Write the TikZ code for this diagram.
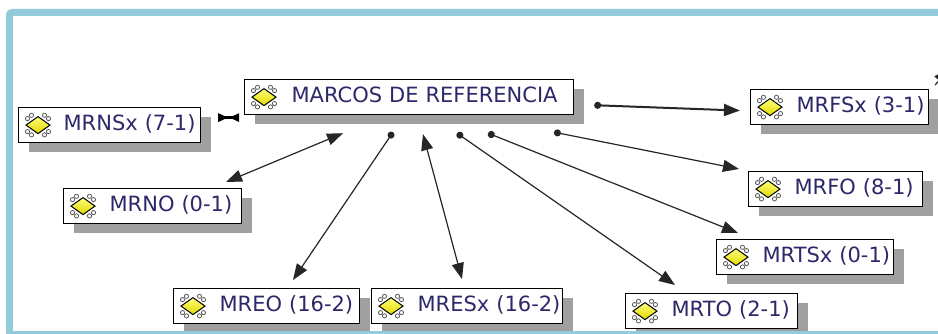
\documentclass[tikz,border=0pt]{standalone}
\usepackage{fontspec}
\setmainfont{DejaVu Sans}
\usetikzlibrary{arrows.meta,calc,shadows}
\definecolor{framecol}{RGB}{146,204,220}
\definecolor{shadowcol}{RGB}{160,160,160}
\definecolor{txtcol}{RGB}{45,40,105}
\definecolor{icotop}{RGB}{255,255,120}
\definecolor{icobot}{RGB}{225,215,0}
\tikzset{
  mbox/.style={draw=black, line width=1.2pt, fill=white, inner sep=0pt,
    minimum height=35pt, text width=#1, align=left,
    font=\fontsize{21}{24}\selectfont, text=txtcol,
    text height=15pt, text depth=4pt, anchor=north west,
    general shadow={draw=none, fill=shadowcol, shadow xshift=10pt, shadow yshift=-9pt}},
  ico/.pic={
    \foreach \a/\b in {-10.5/-6.5, -6.5/-9.8, 10.5/-6.5, 6.5/-9.8, -10.5/6.5, -6.5/9.8, 10.5/6.5, 6.5/9.8}
      \draw[black!65, line width=0.8pt] (\a,\b) circle (2.1pt);
    \draw[black, line width=1pt, top color=icotop, bottom color=icobot]
      (-12,0) -- (0,-8.5) -- (12,0) -- (0,8.5) -- cycle;
  },
  con/.style={draw=black!85, line width=1.2pt},
  tipend/.style={-{Triangle[length=16pt,width=12pt]}},
  dottip/.style={{Circle[length=7pt]}-{Triangle[length=16pt,width=12pt]}},
  bothtip/.style={{Triangle[length=16pt,width=12pt]}-{Triangle[length=16pt,width=12pt]}}
}
\begin{document}
\begin{tikzpicture}[x=1pt,y=-1pt]
\useasboundingbox (0,0) rectangle (938,334);
\clip (0,0) rectangle (938,334);
% frame
\fill[framecol, rounded corners=6pt] (6,9) rectangle (990,345);
\fill[white] (13,16) rectangle (990,331);

% nodes
\node[mbox=329pt] (marcos) at (244,79) {\mbox{\hspace*{47pt}MARCOS DE REFERENCIA}};
\node[mbox=182pt] (mrns) at (18,107) {\mbox{\hspace*{45pt}MRNSx (7-1)}};
\node[mbox=178pt] (mrno) at (63,188) {\mbox{\hspace*{46pt}MRNO (0-1)}};
\node[mbox=186pt] (mreo) at (173,288) {\mbox{\hspace*{46pt}MREO (16-2)}};
\node[mbox=191pt] (mres) at (371,288) {\mbox{\hspace*{46pt}MRESx (16-2)}};
\node[mbox=178pt] (mrfs) at (750,89) {\mbox{\hspace*{46pt}MRFSx (3-1)}};
\node[mbox=174pt] (mrfo) at (748,171) {\mbox{\hspace*{46pt}MRFO (8-1)}};
\node[mbox=177pt] (mrts) at (716,239) {\mbox{\hspace*{46pt}MRTSx (0-1)}};
\node[mbox=172pt] (mrto) at (625,293) {\mbox{\hspace*{46pt}MRTO (2-1)}};

% icons
\foreach \n in {marcos,mrns,mrno,mreo,mres,mrfs,mrfo,mrts,mrto}
  \pic at ([xshift=20pt]\n.west) {ico};

% connector end points
\coordinate (s1) at ([shift={(99,18)}]marcos.south west);
\coordinate (s2) at ([shift={(149,17)}]marcos.south west);
\coordinate (s3) at ([shift={(179,19)}]marcos.south west);
\coordinate (s4) at ([shift={(213,18)}]marcos.south west);
\coordinate (s5) at ([shift={(244,18)}]marcos.south west);
\coordinate (s6) at ([shift={(310,17)}]marcos.south west);
\coordinate (s7) at ([shift={(20,-10)}]marcos.south east);
\coordinate (t1) at ([shift={(163,-6)}]mrno.north west);
\coordinate (t2) at ([shift={(120,-8)}]mreo.north west);
\coordinate (t3) at ([shift={(91,-9)}]mres.north west);
\coordinate (t4) at ([shift={(50,-8)}]mrto.north west);
\coordinate (t5) at ([shift={(22,-6)}]mrts.north west);
\coordinate (t6) at ([shift={(-9,-2)}]mrfo.north west);
\coordinate (t7) at ([shift={(-10,3.5)}]mrfs.west);
\coordinate (b1) at ([shift={(17,-7.5)}]mrns.east);
\coordinate (b2) at ([shift={(38,-7.5)}]mrns.east);
\coordinate (f1) at ([shift={(6,-4)}]mrfs.north east);
\coordinate (f2) at ([shift={(20,-21)}]mrfs.north east);

% connectors
\draw[con, bothtip] (s1) -- (t1);
\draw[con, dottip] (s2) -- (t2);
\draw[con, bothtip] (s3) -- (t3);
\draw[con, dottip] (s4) -- (t4);
\draw[con, dottip] (s5) -- (t5);
\draw[con, dottip] (s6) -- (t6);
\draw[con, dottip, line width=2pt] (s7) -- (t7);
\draw[black, line width=2.5pt, {Triangle[reversed,length=10pt,width=8pt]}-{Triangle[reversed,length=10pt,width=8pt]}] (b1) -- (b2);
\draw[con, tipend] (f1) -- (f2);

% bottom frame line
\fill[framecol] (6,331) rectangle (990,334);
\end{tikzpicture}
\end{document}
